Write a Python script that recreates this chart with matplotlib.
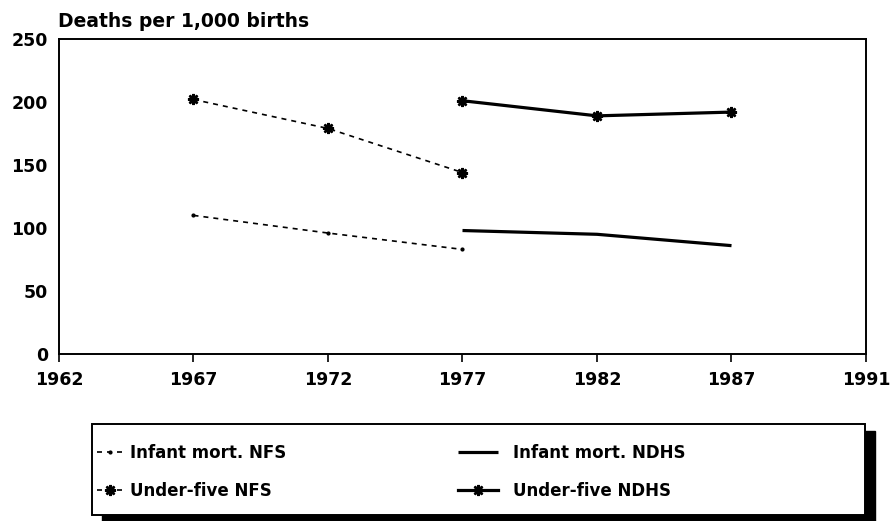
import matplotlib
matplotlib.use("Agg")
import matplotlib.pyplot as plt
from matplotlib.patches import Rectangle

# ---- data ----
years_nfs = [1967, 1972, 1977]
years_ndhs = [1977, 1982, 1987]
infant_nfs = [110, 96, 83]
under5_nfs = [202, 179, 144]
infant_ndhs = [98, 95, 86]
under5_ndhs = [201, 189, 192]

xtick_pos = [1962, 1967, 1972, 1977, 1982, 1987, 1992]
xtick_labels = ["1962", "1967", "1972", "1977", "1982", "1987", "1991"]
ytick_vals = [0, 50, 100, 150, 200, 250]
ytitle = "Deaths per 1,000 births"
labels_nfs = ["Infant mort. NFS", "Under-five NFS"]
labels_ndhs = ["Infant mort. NDHS", "Under-five NDHS"]

FONT = "DejaVu Sans"
plt.rcParams["font.family"] = [FONT]
plt.rcParams["font.weight"] = "bold"

W, H = 891, 521
fig = plt.figure(figsize=(W / 100, H / 100), dpi=100)
ax = fig.add_axes([59 / W, 1 - 354 / H, (866 - 59) / W, (354 - 39) / H])

dash = (0, (3, 3))
star = (8, 2, 0)
l1, = ax.plot(years_nfs, infant_nfs, color="black", lw=1.2, linestyle=dash,
              marker=".", markersize=4)
l2, = ax.plot(years_nfs, under5_nfs, color="black", lw=1.2, linestyle=dash,
              marker=star, markersize=8, markeredgewidth=1.8)
l3, = ax.plot(years_ndhs, infant_ndhs, color="black", lw=2.3, solid_capstyle="butt")
l4, = ax.plot(years_ndhs, under5_ndhs, color="black", lw=2.3,
              marker=star, markersize=8, markeredgewidth=1.8)

ax.set_xlim(1962, 1992)
ax.set_ylim(0, 250)
ax.set_xticks(xtick_pos)
ax.set_xticklabels(xtick_labels)
ax.set_yticks(ytick_vals)
for s in ax.spines.values():
    s.set_linewidth(1.4)
ax.tick_params(axis="x", direction="out", length=6, width=1.2, pad=6, labelsize=12.5)
ax.tick_params(axis="y", length=0, pad=8, labelsize=12.5)
for t in ax.get_xticklabels() + ax.get_yticklabels():
    t.set_fontweight("bold")

fig.text(58 / W, 1 - 27 / H, ytitle, fontsize=13.5, fontweight="bold",
         ha="left", va="baseline")

# legend frame with shadow
bx0, bx1, by0, by1 = 92, 865, 424, 515
fig.patches.append(Rectangle(((bx0 + 10) / W, 1 - (by1 + 7) / H), (bx1 - bx0) / W,
                             (by1 - by0) / H, transform=fig.transFigure,
                             facecolor="black", edgecolor="black", zorder=1))
fig.patches.append(Rectangle((bx0 / W, 1 - by1 / H), (bx1 - bx0) / W,
                             (by1 - by0) / H, transform=fig.transFigure,
                             facecolor="white", edgecolor="black", lw=1.4, zorder=2))

prop = {"family": FONT, "weight": "bold", "size": 12}
legA = fig.legend([l1, l2], labels_nfs, loc="upper left",
                  bbox_to_anchor=(97 / W, 1 - 444 / H), frameon=False, prop=prop,
                  handlelength=1.6, handletextpad=0.4, labelspacing=1.2,
                  borderpad=0, borderaxespad=0)
legB = fig.legend([l3, l4], labels_ndhs, loc="upper left",
                  bbox_to_anchor=(458 / W, 1 - 444 / H), frameon=False, prop=prop,
                  handlelength=2.4, handletextpad=0.9, labelspacing=1.2,
                  borderpad=0, borderaxespad=0)
legA.set_zorder(5)
legB.set_zorder(5)

fig.savefig("out.png", dpi=100)
